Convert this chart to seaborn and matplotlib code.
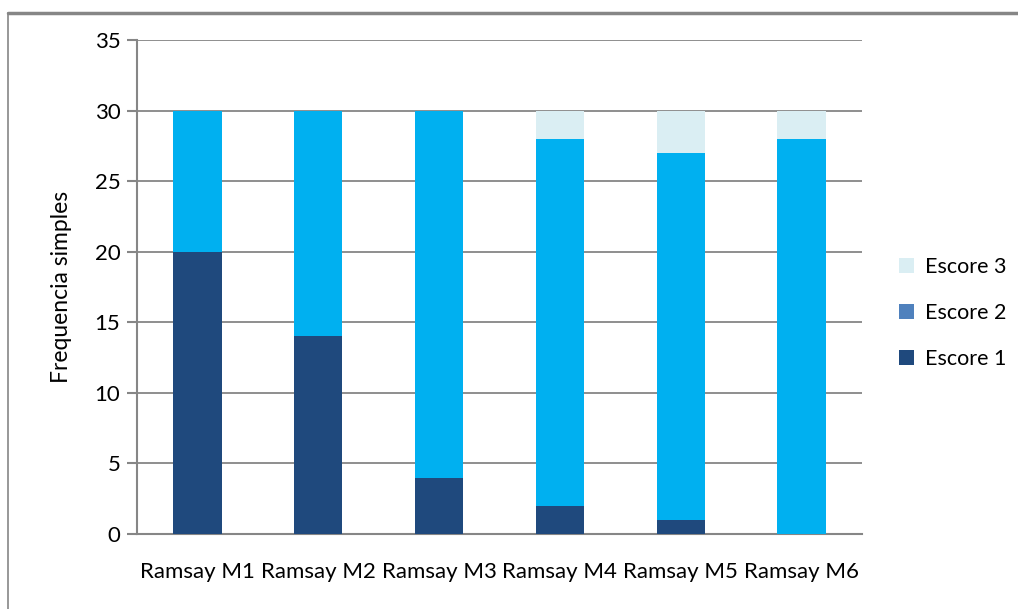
import matplotlib
matplotlib.use("Agg")
import matplotlib.pyplot as plt
import numpy as np
import pandas as pd
import seaborn as sns
from matplotlib.lines import Line2D
from matplotlib.patches import Patch

# data
categories = ["Ramsay M1", "Ramsay M2", "Ramsay M3", "Ramsay M4", "Ramsay M5", "Ramsay M6"]
escore1 = [20, 14, 4, 2, 1, 0]
escore2 = [10, 16, 26, 26, 26, 28]
escore3 = [0, 0, 0, 2, 3, 2]
series_names = ["Escore 1", "Escore 2", "Escore 3"]

bar_colors = ["#1F497D", "#00B0F0", "#DAEEF3"]
legend_colors = ["#1F497D", "#4F81BD", "#DAEEF3"]
grid_color = "#868686"

sns.set_theme(style="white")
plt.rcParams["font.family"] = ["Lato", "DejaVu Sans"]
plt.rcParams["text.color"] = "black"
plt.rcParams["axes.labelcolor"] = "black"
plt.rcParams["xtick.color"] = "black"
plt.rcParams["ytick.color"] = "black"

df = pd.DataFrame({"cat": categories, "e1": escore1, "e2": escore2, "e3": escore3})
df["t1"] = df["e1"]
df["t2"] = df["e1"] + df["e2"]
df["t3"] = df["t2"] + df["e3"]

fig = plt.figure(figsize=(10.18, 6.09), dpi=100)
ax = fig.add_axes([137 / 1018, 1 - 534 / 609, (862 - 137) / 1018, (534 - 40) / 609])

# stacked bars: draw cumulative totals from the top layer down
for col, color in zip(["t3", "t2", "t1"], bar_colors[::-1]):
    sns.barplot(data=df, x="cat", y=col, color=color, width=0.4, ax=ax,
                saturation=1, linewidth=0, zorder=3)

ax.set_ylim(0, 35)
ax.set_xlim(-0.5, len(categories) - 0.5)
ax.set_yticks(range(0, 36, 5))
ax.yaxis.grid(True, color=grid_color, linewidth=1.3, zorder=0)
ax.set_axisbelow(True)

for side in ["top", "right"]:
    ax.spines[side].set_visible(False)
for side in ["left", "bottom"]:
    ax.spines[side].set_color(grid_color)
    ax.spines[side].set_linewidth(1.5)

# x ticks sit at category boundaries
ax.set_xticks(np.arange(-0.5, len(categories), 1.0), minor=True)
ax.tick_params(axis="x", which="minor", length=7, width=1.5, color=grid_color, direction="out")
ax.tick_params(axis="x", which="major", length=0, pad=20, labelsize=16)
ax.tick_params(axis="y", length=7, width=1.5, color=grid_color, direction="out",
               left=True, labelsize=16, pad=5)
ax.set_xlabel("")
ax.set_ylabel("Frequencia simples", fontsize=16.5, labelpad=16)

handles = [Patch(facecolor=c, edgecolor="none") for c in legend_colors]
leg = fig.legend(handles[::-1], series_names[::-1], loc="center left",
                 bbox_to_anchor=(880 / 1018, 1 - 313 / 609), frameon=False,
                 fontsize=15.5, handlelength=0.7, handleheight=0.7,
                 labelspacing=1.2, handletextpad=0.5)

# outer chart frame (only top and left edges show)
fig.add_artist(Line2D([8 / 1018, 1], [1 - 12.5 / 609, 1 - 12.5 / 609],
                      transform=fig.transFigure, color=grid_color, linewidth=2.5))
fig.add_artist(Line2D([8 / 1018, 8 / 1018], [0, 1 - 12.5 / 609],
                      transform=fig.transFigure, color=grid_color, linewidth=1.2))

fig.savefig("out.png", dpi=100)
